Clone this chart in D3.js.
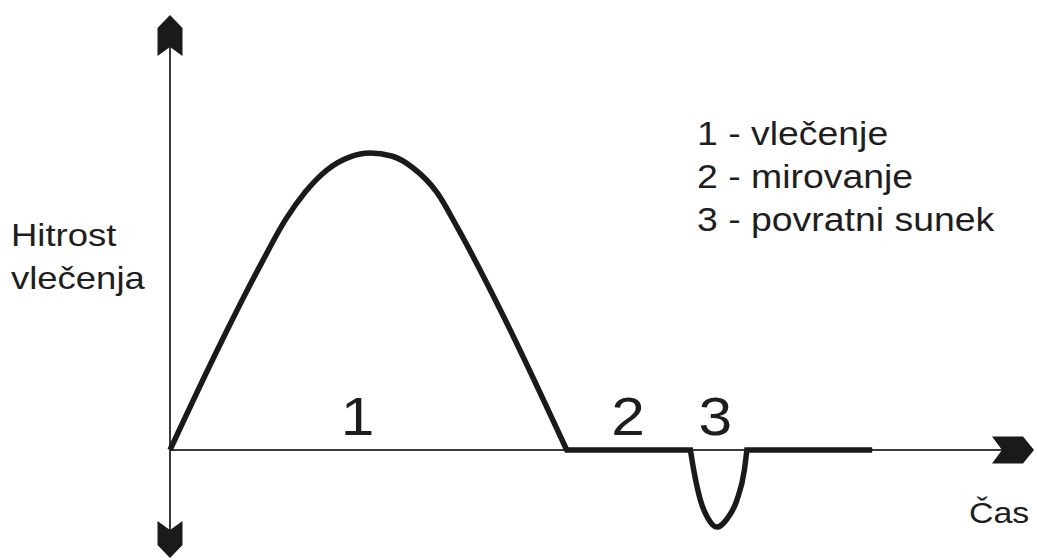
<!DOCTYPE html>
<html>
<head>
<meta charset="utf-8">
<script src="https://cdn.jsdelivr.net/npm/d3@7"></script>
<style>
  html, body { margin: 0; padding: 0; background: #fff; }
  svg { display: block; }
  text { font-family: "Liberation Sans", Arial, sans-serif; fill: #1e1e1e; }
</style>
</head>
<body>
<svg id="chart" width="1037" height="560"></svg>
<script>
// ---- Data (time in arbitrary units, speed relative) ----
// Phase 1: pulling (hump)
const pullTime  = [0, 0.60, 1.11, 1.39, 1.63, 1.89, 2.17, 2.41, 2.67, 2.93, 3.22, 3.46, 3.98, 4.78];
const pullSpeed = [0, 0.35, 0.627, 0.767, 0.86, 0.933, 0.977, 0.99, 0.98, 0.94, 0.857, 0.743, 0.467, 0];
// Phase 2: rest (flat)
const restTime  = [4.78, 6.27];
const restSpeed = [0, 0];
// Phase 3: backward jerk (dip)
const jerkTime  = [6.27, 6.31, 6.39, 6.48, 6.59, 6.71, 6.83, 6.92, 6.95];
const jerkSpeed = [0, -0.067, -0.167, -0.227, -0.257, -0.23, -0.167, -0.067, 0];
// After: flat
const afterTime  = [6.95, 8.46];
const afterSpeed = [0, 0];

const phaseLabels = ["1", "2", "3"];
const phaseLabelTime = [2.26, 5.52, 6.57];
const legendLines = ["1 - vlečenje", "2 - mirovanje", "3 - povratni sunek"];
const yAxisLabel = ["Hitrost", "vlečenja"];
const xAxisLabel = "Čas";

// ---- Scales ----
const x = d3.scaleLinear().domain([0, 10]).range([170, 1000]);
const y = d3.scaleLinear().domain([0, 1]).range([450, 150]);

const svg = d3.select("#chart");
const ink = "#1a1a1a";

// ---- Axes ----
const yTop = 15, yBot = 558;
svg.append("line")
  .attr("x1", x(0)).attr("x2", x(0))
  .attr("y1", yTop + 20).attr("y2", yBot - 20)
  .attr("stroke", "#3a3a3a").attr("stroke-width", 2);
svg.append("line")
  .attr("x1", x(0)).attr("x2", x(10) + 5)
  .attr("y1", y(0)).attr("y2", y(0))
  .attr("stroke", "#3a3a3a").attr("stroke-width", 2);

// arrowheads (chevron style)
const ax = x(0);
svg.append("path")
  .attr("d", `M${ax},${yTop} L${ax+12.5},${yTop+13} L${ax+12.5},${yTop+41} L${ax},${yTop+32} L${ax-12.5},${yTop+41} L${ax-12.5},${yTop+13} Z`)
  .attr("fill", ink);
svg.append("path")
  .attr("d", `M${ax},${yBot} L${ax+12.5},${yBot-13} L${ax+12.5},${yBot-37} L${ax},${yBot-28} L${ax-12.5},${yBot-37} L${ax-12.5},${yBot-13} Z`)
  .attr("fill", ink);
const ay = y(0), xR = 1034;
svg.append("path")
  .attr("d", `M${xR},${ay} L${xR-11},${ay-13.5} L${xR-42},${ay-13.5} L${xR-32},${ay} L${xR-42},${ay+13.5} L${xR-11},${ay+13.5} Z`)
  .attr("fill", ink);

// ---- Curve ----
const zip = (ts, vs) => ts.map((t, i) => [t, vs[i]]);
const smooth = d3.line().x(d => x(d[0])).y(d => y(d[1])).curve(d3.curveMonotoneX);
const straight = d3.line().x(d => x(d[0])).y(d => y(d[1]));
const cont = s => s.replace(/^M/, "L");
const dPath = smooth(zip(pullTime, pullSpeed))
  + cont(straight(zip(restTime, restSpeed)))
  + cont(smooth(zip(jerkTime, jerkSpeed)))
  + cont(straight(zip(afterTime, afterSpeed)));
svg.append("path")
  .attr("d", dPath)
  .attr("fill", "none")
  .attr("stroke", ink)
  .attr("stroke-width", 5.5)
  .attr("stroke-linejoin", "miter")
  .attr("stroke-linecap", "butt");

// ---- Text ----
function label(txt, px, py, size, anchor, sx) {
  svg.append("text")
    .attr("transform", `translate(${px},${py}) scale(${sx || 1.12},1)`)
    .attr("text-anchor", anchor || "start")
    .attr("font-size", size)
    .text(txt);
}
phaseLabels.forEach((l, i) => label(l, x(phaseLabelTime[i]), 435, 54, "middle", 1.12));
legendLines.forEach((l, i) => label(l, 697, 145 + i * 43, 34, "start", 1.1));
yAxisLabel.forEach((l, i) => label(l, 11, 246 + i * 43, 32, "start", 1.14));
label(xAxisLabel, 969, 523, 30, "start", 1.13);
</script>
</body>
</html>
